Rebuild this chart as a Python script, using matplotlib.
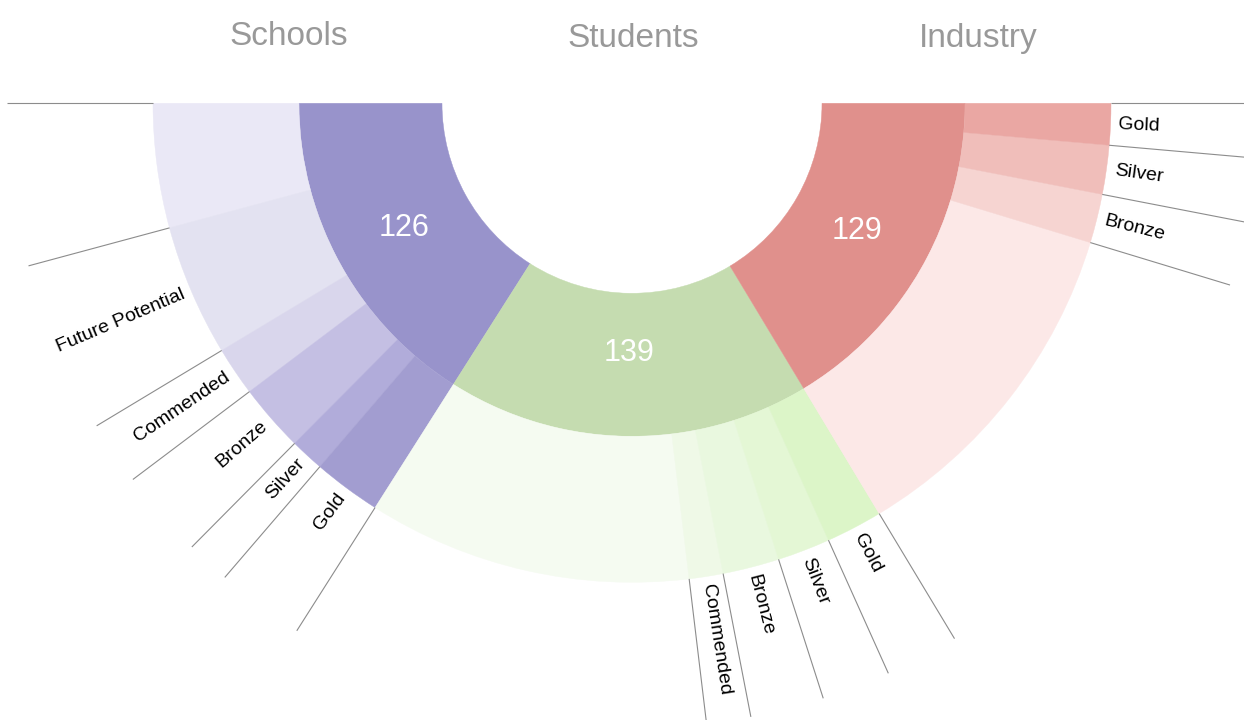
import numpy as np
import matplotlib.pyplot as plt
from matplotlib.patches import Wedge

# inner ring
categories = ['Schools', 'Students', 'Industry']
totals = [126, 139, 129]

# outer ring, one list per category
schools_labels = ['', 'Future Potential', 'Commended', 'Bronze', 'Silver', 'Gold']
schools_values = [33, 35, 13, 18, 9, 18]
students_labels = ['', 'Commended', 'Bronze', 'Silver', 'Gold']
students_values = [86, 9, 15, 14, 15]
industry_labels = ['', 'Bronze', 'Silver', 'Gold']
industry_values = [92, 13, 13, 11]

inner_colors = ['#9893CB', '#C5DCB0', '#E0908C']
schools_colors = ['#EAE8F6', '#E3E2F1', '#D9D6EC', '#C4BFE3', '#B1ACDA', '#A29DD0']
students_colors = ['#F5FBF1', '#EFF9E7', '#E9F8DF', '#E4F7D5', '#DCF5C8']
industry_colors = ['#FCE8E7', '#F6D4D1', '#F0BEBA', '#EAA7A3']

children = [
    (schools_labels, schools_values, schools_colors),
    (students_labels, students_values, students_colors),
    (industry_labels, industry_values, industry_colors),
]

R0, R1, R2, R_LINE, R_LABEL = 190, 333, 479, 625, 487
value_r = [260, 250, 259]  # where the big numbers sit

fig = plt.figure(figsize=(12.44, 7.2), dpi=100)
ax = fig.add_axes([0, 0, 1, 1])
ax.set_xlim(-632, 612)
ax.set_ylim(-616.7, 103.3)
ax.set_aspect('equal')
ax.axis('off')


def polar(r, deg):
    a = np.radians(deg)
    return r * np.cos(a), r * np.sin(a)


deg_per_unit = 180 / sum(totals)
start = 180
boundaries = [start]
for total, col, vr, (labs, vals, cols) in zip(totals, inner_colors, value_r, children):
    span = total * deg_per_unit
    ax.add_patch(Wedge((0, 0), R1, start, start + span, width=R1 - R0,
                       facecolor=col, edgecolor=col, lw=0.3))
    x, y = polar(vr, start + span / 2)
    ax.text(x, y, str(total), color='white', fontsize=22, ha='center', va='center',
            family=['Liberation Sans', 'DejaVu Sans'])

    s = start
    for lab, v, c in zip(labs, vals, cols):
        sub = v * deg_per_unit
        ax.add_patch(Wedge((0, 0), R2, s, s + sub, width=R2 - R1,
                           facecolor=c, edgecolor=c, lw=0.3))
        if lab:
            mid = s + sub / 2
            x, y = polar(R_LABEL, mid)
            if mid < 270:
                rot, ha = mid - 180, 'right'
            else:
                rot, ha = mid - 360, 'left'
            ax.text(x, y, lab, fontsize=14, rotation=rot, rotation_mode='anchor',
                    ha=ha, va='center', color='black',
                    family=['Liberation Sans', 'DejaVu Sans'])
        s += sub
        boundaries.append(s)
    start += span

# leader lines along every outer boundary
for b in boundaries:
    x0, y0 = polar(R2, b)
    x1, y1 = polar(R_LINE, b)
    ax.plot([x0, x1], [y0, y1], color='#8c8c8c', lw=0.8, solid_capstyle='butt')

# group titles
title_pos = [(-343, 58), (1, 56), (346, 56)]
for name, (tx, ty) in zip(categories, title_pos):
    ax.text(tx, ty, name, fontsize=24, color='#999999', ha='center', va='baseline',
            family=['Liberation Sans', 'DejaVu Sans'])

fig.savefig('out.png', dpi=100)
